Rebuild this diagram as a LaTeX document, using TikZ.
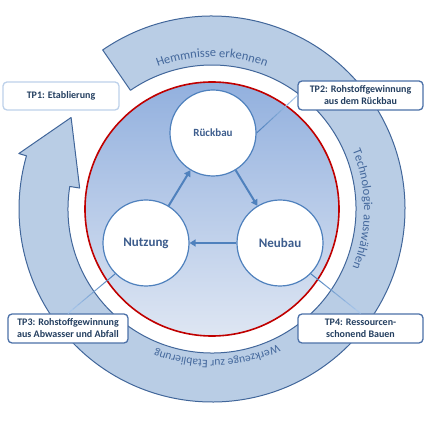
\documentclass[tikz,border=0pt]{standalone}
\usepackage{fontspec}
\setmainfont{Carlito}
\usetikzlibrary{arrows.meta,calc,decorations.text}
\definecolor{bandfill}{HTML}{B9CDE5}
\definecolor{bandline}{HTML}{41669A}
\definecolor{bandtext}{HTML}{44689C}
\definecolor{disktop}{HTML}{92B0DE}
\definecolor{diskbot}{HTML}{DEE6F3}
\definecolor{ringred}{HTML}{C00000}
\definecolor{cyclblue}{HTML}{4F81BD}
\definecolor{cycltext}{HTML}{3D5D8D}
\definecolor{tptext}{HTML}{243F60}
\definecolor{tplight}{HTML}{BDD1EA}
\definecolor{tpdark}{HTML}{4C71A8}
\definecolor{linkdark}{HTML}{4F81BD}
\definecolor{linklight}{HTML}{B4D0F0}
\newcommand{\bandfont}{\fontsize{12.5}{14}\selectfont}

\tikzset{
  phase/.style={circle,draw=cyclblue,line width=1.2pt,fill=white,minimum size=86pt,
    inner sep=0pt,text=cycltext,font=\fontsize{13}{15}\selectfont\bfseries},
  tpbox/.style={rounded corners=4pt,draw=tpdark,line width=1.3pt,fill=white,inner sep=0pt,
    align=center,text=tptext,font=\fontsize{10}{12}\selectfont\bfseries},
  flow/.style={cyclblue,line width=2pt,-{Triangle[length=6pt,width=7pt]}},
  bandlabel/.style={decorate,decoration={text along path,text align=center,text color=bandtext}},
}

\begin{document}
\begin{tikzpicture}[x=1pt,y=1pt]
\useasboundingbox (-212,-213) rectangle (213,209);

% circular arrow band
\draw[bandline,fill=bandfill,line width=1pt,line join=round]
  (124.5:193) arc[start angle=124.5,end angle=-196,radius=193]
  -- (-196:201) -- (-213:168) -- (-189:134) -- (-189:144)
  arc[start angle=-189,end angle=124.5,radius=144] -- cycle;
\path[bandlabel,decoration={text={|\bandfont|Hemmnisse erkennen}}]
  (150:152) arc[start angle=150,end angle=30,radius=152];
\path[bandlabel,decoration={text={|\bandfont|Technologie auswählen}}]
  (60:152) arc[start angle=60,end angle=-60,radius=152];
\path[bandlabel,decoration={text={|\fontsize{11.5}{13}\selectfont|Werkzeuge zur Etablierung}}]
  (-28:151) arc[start angle=-28,end angle=-148,radius=151];

% inner disk
\shade[top color=disktop,bottom color=diskbot] (0,0) circle (127);
\draw[ringred,line width=1.6pt] (0,0) circle (127);

% cycle
\node[phase,font=\fontsize{11}{13}\selectfont\bfseries] (rueck) at (1,76) {Rückbau};
\node[phase] (nutz) at (-66,-34) {Nutzung};
\node[phase] (neu) at (68,-34) {Neubau};
\draw[flow] (rueck) -- (neu);
\draw[flow] (neu) -- (nutz);
\draw[flow] (nutz) -- (rueck);

% work packages
\node[tpbox,draw=tplight,minimum width=116pt,minimum height=28pt] (tp1) at (-151,113) {TP1: Etablierung};
\node[tpbox,minimum width=125pt,minimum height=29pt] (tp2) at (148.5,113.5) {TP2: Rohstoffgewinnung\\aus dem Rückbau};
\node[tpbox,minimum width=120pt,minimum height=29pt] (tp3) at (-144,-119.5) {TP3: Rohstoffgewinnung\\aus Abwasser und Abfall};
\node[tpbox,minimum width=125pt,minimum height=29pt] (tp4) at (148.5,-119.5) {TP4: Ressourcen-\\schonend Bauen};

% connectors, dark at the circle, light at the box
\foreach \src/\dst in {rueck.east/tp2.west,nutz.south west/tp3.north,neu.south east/tp4.north}
  \foreach \i in {0,...,9}{
    \pgfmathtruncatemacro{\mix}{100-10*\i}
    \draw[linkdark!\mix!linklight,line width=1pt]
      ($(\src)!{\i/10}!(\dst)$) -- ($(\src)!{\i/10+0.1}!(\dst)$);
  }
\end{tikzpicture}
\end{document}
